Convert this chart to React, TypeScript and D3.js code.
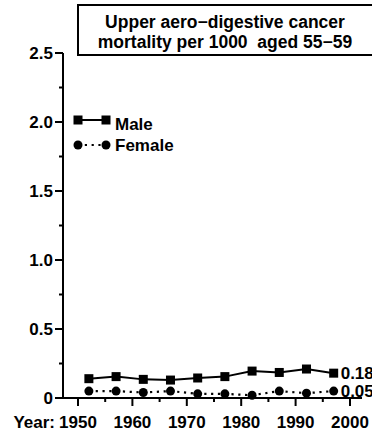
import React from 'react';
import * as d3 from 'd3';

// Five-year midpoints and rates per 1000
const years = [1952, 1957, 1962, 1967, 1972, 1977, 1982, 1987, 1992, 1997];
const maleRates = [0.14, 0.155, 0.135, 0.13, 0.145, 0.155, 0.195, 0.185, 0.21, 0.18];
const femaleRates = [0.05, 0.05, 0.04, 0.05, 0.03, 0.03, 0.02, 0.05, 0.035, 0.05];

const yMajorTicks = [0, 0.5, 1.0, 1.5, 2.0, 2.5];
const yTickLabels = ['0', '0.5', '1.0', '1.5', '2.0', '2.5'];
const yMinorTicks = [0.25, 0.75, 1.25, 1.75, 2.25];
const xMajorTicks = [1950, 1960, 1970, 1980, 1990, 2000];
const xMinorTicks = [1955, 1965, 1975, 1985, 1995];

const endLabels = ['0.18', '0.05'];
const titleLines = ['Upper aero\u2212digestive cancer', 'mortality per 1000  aged 55\u221259'];

const W = 372;
const H = 434;
const FONT = '"Liberation Sans", Arial, Helvetica, sans-serif';
const FS = 17;

export default function App() {
    const x = d3.scaleLinear().domain([1950, 2000]).range([78, 350]);
    const y = d3.scaleLinear().domain([0, 2.5]).range([398, 53]);
    const axisX = 63;

    const line = d3.line<number>()
        .x((_, i) => x(years[i]))
        .y(d => y(d));

    const malePath = line(maleRates) || '';
    const femalePath = line(femaleRates) || '';
    const sq = 9;
    const dots = '2.2,4.6';

    return (
        <svg
            width={W}
            height={H}
            style={{ position: 'absolute', left: 0, top: 0, background: '#fff' }}
            fontFamily={FONT}
            fontWeight="bold"
        >
            {/* title box */}
            <rect x={78} y={5} width={300} height={50} fill="#fff" stroke="#000" strokeWidth={2} />
            {titleLines.map((t, i) => (
                <text key={i} x={225} y={28 + i * 20} textAnchor="middle" fontSize={17.5} style={{ whiteSpace: 'pre' }}>{t}</text>
            ))}

            {/* y axis */}
            <line x1={axisX} x2={axisX} y1={y(2.5)} y2={y(0)} stroke="#000" strokeWidth={2} />
            {yMajorTicks.map((t, i) => (
                <g key={t}>
                    <line x1={axisX - 8} x2={axisX} y1={y(t)} y2={y(t)} stroke="#000" strokeWidth={2} />
                    <text x={axisX - 10} y={y(t)} dy="0.36em" textAnchor="end" fontSize={FS}>{yTickLabels[i]}</text>
                </g>
            ))}
            {yMinorTicks.map(t => (
                <line key={t} x1={axisX - 4} x2={axisX} y1={y(t)} y2={y(t)} stroke="#000" strokeWidth={2} />
            ))}

            {/* x axis */}
            <line x1={axisX} x2={362} y1={y(0)} y2={y(0)} stroke="#000" strokeWidth={2} />
            {xMajorTicks.map(t => (
                <g key={t}>
                    <line x1={x(t)} x2={x(t)} y1={y(0)} y2={y(0) + 8} stroke="#000" strokeWidth={2} />
                    <text x={x(t)} y={y(0) + 30} textAnchor="middle" fontSize={FS}>{t}</text>
                </g>
            ))}
            <text x={x(1950) - 23} y={y(0) + 30} textAnchor="end" fontSize={FS}>Year:</text>
            {xMinorTicks.map(t => (
                <line key={t} x1={x(t)} x2={x(t)} y1={y(0)} y2={y(0) + 4} stroke="#000" strokeWidth={2} />
            ))}

            {/* series */}
            <path d={malePath} fill="none" stroke="#000" strokeWidth={2} />
            <path d={femalePath} fill="none" stroke="#000" strokeWidth={2.2} strokeDasharray={dots} />
            {maleRates.map((v, i) => (
                <rect key={i} x={x(years[i]) - sq / 2} y={y(v) - sq / 2} width={sq} height={sq} fill="#000" />
            ))}
            {femaleRates.map((v, i) => (
                <circle key={i} cx={x(years[i])} cy={y(v)} r={4.5} fill="#000" />
            ))}

            {/* end-of-line values (run off the right edge, as in the source) */}
            <text x={x(years[9]) + 7} y={y(maleRates[9])} dy="0.36em" fontSize={FS}>{endLabels[0]}</text>
            <text x={x(years[9]) + 7} y={y(femaleRates[9])} dy="0.36em" fontSize={FS}>{endLabels[1]}</text>

            {/* legend */}
            <line x1={78} x2={106} y1={120} y2={120} stroke="#000" strokeWidth={2} />
            <rect x={78 - sq / 2} y={120 - sq / 2} width={sq} height={sq} fill="#000" />
            <rect x={106 - sq / 2} y={120 - sq / 2} width={sq} height={sq} fill="#000" />
            <text x={115} y={130} fontSize={FS}>Male</text>
            <line x1={78} x2={106} y1={145} y2={145} stroke="#000" strokeWidth={2.2} strokeDasharray={dots} />
            <circle cx={78} cy={145} r={4.5} fill="#000" />
            <circle cx={106} cy={145} r={4.5} fill="#000" />
            <text x={115} y={151} fontSize={FS}>Female</text>
        </svg>
    );
}
